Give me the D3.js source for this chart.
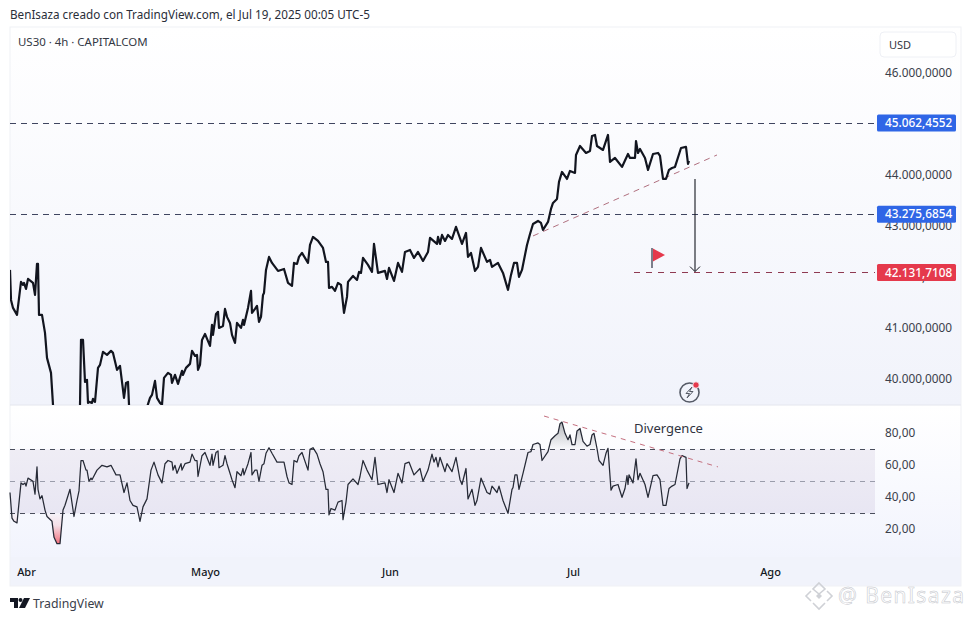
<!DOCTYPE html>
<html><head><meta charset="utf-8">
<script src="https://cdn.jsdelivr.net/npm/d3@7/dist/d3.min.js"></script>
<style>html,body{margin:0;padding:0;background:#fff;overflow:hidden}svg{display:block}
text{font-family:"Noto Sans",sans-serif}</style></head><body><div id="c"></div>
<script>
const priceBars=[10,11,13,17,21,23,24,26,28,33,35,37,38,39,42,45,47,51,53,56,
62,68,75,78,80,81,83,85,87,88,89,92,93,95,98,100,103,107,111,113,
117,120,124,126,128,129,135,143,150,152,155,157,160,162,164,168,171,172,175,178,
182,183,186,190,192,195,197,198,200,202,205,210,212,213,216,218,219,223,225,227,
230,232,235,237,241,243,244,248,251,252,255,257,259,261,263,264,266,269,272,278,
284,288,292,294,297,299,302,308,310,313,318,323,326,328,329,332,335,338,341,344,
347,348,353,357,359,361,363,368,372,374,378,385,387,389,394,398,402,405,410,414,
418,423,428,430,437,438,440,442,445,448,452,456,462,466,468,471,475,478,481,487,
490,492,498,503,508,511,514,517,519,522,527,530,533,538,541,543,548,551,553,557,
559,562,567,570,575,576,580,586,590,592,595,597,603,608,610,615,622,628,630,635,
636,638,640,645,648,653,658,660,663,666,669,672,675,681,686,688,689];
const priceValues=[42139,41551,41394,41257,41904,41845,41884,41766,41962,41884,41649,42256,42256,41257,41257,40904,40414,40120,39493,38807,
38219,38513,38219,39003,39493,40767,40767,39944,39983,39532,39552,39532,39610,39552,40218,40277,40532,40473,40551,40512,
40179,40257,39630,39924,39944,39493,39100,39199,39630,39689,39963,39630,39532,39493,40022,40120,40081,39924,40081,39904,
40159,40081,40218,40296,40551,40453,40473,40179,40277,40767,40884,40649,41061,40864,41276,41316,41002,41041,41374,41218,
41100,40864,40708,41100,41002,41159,41061,41394,41727,41296,41374,41433,41120,41218,41649,41688,42139,42394,42276,42119,
42158,41884,41825,42276,42256,42394,42472,42276,42629,42786,42707,42570,42296,42296,41786,41806,41727,41884,41845,41296,
41610,41904,42021,41943,42100,42080,42374,42237,42100,42648,42080,42119,41962,42178,41923,42276,42100,42492,42531,42374,
42492,42315,42492,42766,42648,42786,42648,42825,42707,42825,42746,42982,42648,42864,42394,42472,42119,42198,42570,42296,
42335,42198,42276,42080,41747,42041,42276,42276,42002,42139,42629,42844,43040,43099,43060,42923,43080,43334,43452,43530,
43864,44060,43922,44079,44040,44393,44569,44432,44471,44765,44785,44569,44491,44785,44256,44334,44158,44412,44334,44334,
44667,44432,44510,44334,44099,44412,44432,44373,43922,43922,44099,44138,44158,44530,44550,44216,44275];

const rsiBars=[10,12,14,17,21,23,25,26,28,33,35,37,38,40,42,45,47,52,54,57,
60,63,65,70,74,77,79,81,83,86,87,89,91,92,97,102,107,111,116,120,
124,127,130,133,137,140,143,147,151,154,158,162,165,168,172,173,175,177,181,182,
185,190,192,195,197,198,202,205,210,212,213,216,218,219,223,225,227,230,232,235,
237,241,243,244,248,251,252,255,257,259,262,264,266,269,272,277,284,287,289,292,
294,297,299,302,308,310,313,317,320,323,326,328,329,331,335,338,342,343,346,348,
353,358,360,363,367,372,375,378,385,387,389,394,398,402,405,409,414,420,423,428,
432,434,436,438,440,445,447,452,456,460,462,466,468,472,475,477,481,487,490,492,
497,499,503,508,512,513,515,517,519,523,528,531,533,538,540,542,548,551,555,558,
560,562,565,568,570,572,575,577,580,583,587,590,592,594,597,599,603,606,608,611,
613,618,622,625,627,628,629,633,636,638,640,645,648,653,657,660,663,666,669,672,
675,680,682,686,687,689];
const rsiValues=[43,27,25,24,49,48,49,47,52,50,42,59,45,39,41,32,28,25,15,11,
11,32,35,45,28,38,44,63,63,57,57,50,52,51,57,60,59,60,54,54,
43,49,38,35,34,25,34,39,57,62,54,49,61,63,62,57,60,55,61,57,
61,62,67,63,63,53,66,68,60,67,60,68,69,58.5,60,66,61,55,51,46,
56,53.5,58,54,61,68,54,57,57,50,60,61,67.5,71,67.5,62,62,53,49,48,
63,62,66,68,57,70,71,67,61,56,45,45,29,33,32,37,38,26,37,48,
51.5,48,53,63,57,51,65,48,49,43,51,43,55,49,61,62,54,58,50,57,
67,62,65,59,65,56,61,56,65,51,48,58,39,45,35,38,52,43,42,47,
43,47,38,30,45,46,54,54,45,55,68,68.5,73,74,73,63,68.5,76,78.5,80,
86,87,80,76,79,73,73,81.5,83,75,72,73,79,80,70.5,63,60,67.5,70.6,44.5,
47,48,40,45.5,53.5,48,54,49,64,51,55,48,40,53.5,54,51,35,35,45.5,47,
48,64,66,65,45.5,49];

const priceTicks=[46000,45000,44000,43000,42000,41000,40000];
const priceTickLabels=["46.000,0000","","44.000,0000","43.000,0000","42.000,0000","41.000,0000","40.000,0000"];
const rsiTicks=[80,60,40,20];
const rsiTickLabels=["80,00","60,00","40,00","20,00"];
const monthBars=[26,205,390,573,770];
const monthLabels=["Abr","Mayo","Jun","Jul","Ago"];
const priceLevels=[45062.4552,43275.6854];
const priceLevelLabels=["45.062,4552","43.275,6854"];
const targetLevel=42131.7108, targetLabel="42.131,7108";
const trendBars=[533,717], trendValues=[42805,44393];
const divBars=[544,718], divValues=[90.8,59];
const rsiLevels=[70,50,30];

const W=970,H=621;
const svg=d3.select("#c").append("svg").attr("width",W).attr("height",H);
const x=d3.scaleLinear().domain([10,875]).range([10,875]);
const y=d3.scaleLinear().domain([46000,40000]).range([73,379]);
const yLevel=y.copy().range([75.3,381.3]);
const r=d3.scaleLinear().domain([80,20]).range([433.3,529.3]);

const defs=svg.append("defs");
function grad(id,stops,a,b){const g=defs.append("linearGradient").attr("id",id).attr("x1",0).attr("x2",0);
 if(a!=null){g.attr("gradientUnits","userSpaceOnUse").attr("y1",a).attr("y2",b);}else{g.attr("y1",0).attr("y2",1);}
 stops.forEach(s=>g.append("stop").attr("offset",s[0]).attr("stop-color",s[1]).attr("stop-opacity",s[2]==null?1:s[2]));}
grad("gMain",[[0,"#ffffff"],[1,"#f1f3fb"]]);
grad("gRsi",[[0,"#ffffff"],[1,"#f2f4fd"]]);
grad("gBand",[[0,"#efedf5"],[1,"#e8e6f3"]]);
grad("gRed",[[0,"#f23645",0.02],[0.4,"#f23645",0.12],[1,"#f23645",0.7]],r(30),r(11));
grad("gGrey",[[0,"#6b7078",0.5],[0.5,"#6b7078",0.25],[1,"#6b7078",0.02]],r(87),r(70));
const clip=(id,a,b,c,d)=>defs.append("clipPath").attr("id",id).append("rect").attr("x",a).attr("y",b).attr("width",c).attr("height",d);
clip("cMain",10,28,866,377);
clip("cAbove",10,406,866,r(70)-406);
clip("cBelow",10,r(30),866,557-r(30));

// panes
svg.append("rect").attr("x",10).attr("y",27).attr("width",951).attr("height",378).attr("fill","url(#gMain)");
svg.append("rect").attr("x",10).attr("y",406).attr("width",951).attr("height",151).attr("fill","url(#gRsi)");
svg.append("rect").attr("x",10).attr("y",557).attr("width",951).attr("height",29).attr("fill","#f1f3fb");
svg.append("rect").attr("x",10).attr("y",27).attr("width",951).attr("height",559).attr("fill","none").attr("stroke","#f0f1f5");
svg.append("line").attr("x1",10).attr("x2",961).attr("y1",405).attr("y2",405).attr("stroke","#e4e6ee");

// header
svg.append("text").attr("x",10).attr("y",19).attr("font-size",11.7).attr("fill","#2a2e39").text("BenIsaza creado con TradingView.com, el Jul 19, 2025 00:05 UTC-5");
svg.append("text").attr("x",18).attr("y",46).attr("font-size",11.45).attr("fill","#333844").text("US30 · 4h · CAPITALCOM");

// rsi band
svg.append("rect").attr("x",x(10)).attr("width",x(875)-x(10)).attr("y",r(70)).attr("height",r(30)-r(70)).attr("fill","url(#gBand)");

const dash=(g,x1,x2,y1,y2,col,da,w)=>g.append("line").attr("x1",x1).attr("x2",x2).attr("y1",y1).attr("y2",y2).attr("stroke",col).attr("stroke-dasharray",da).attr("stroke-width",w||1).attr("shape-rendering","crispEdges");
rsiLevels.forEach((v,i)=>dash(svg,x(10),x(875),r(v),r(v),i==1?"#9a9cab":"#4a4e5c","5,5"));

// rsi overbought / oversold fills
const pts=rsiBars.map((b,i)=>[b,rsiValues[i]]);
svg.append("path").datum(pts).attr("clip-path","url(#cBelow)").attr("fill","url(#gRed)")
 .attr("d",d3.area().x(d=>x(d[0])).y1(d=>r(d[1])).y0(r(30)));
svg.append("path").datum(pts).attr("clip-path","url(#cAbove)").attr("fill","url(#gGrey)")
 .attr("d",d3.area().x(d=>x(d[0])).y1(d=>r(d[1])).y0(r(70)));
svg.append("path").datum(pts).attr("fill","none").attr("stroke","#262a36").attr("stroke-width",1.25).attr("stroke-linejoin","round")
 .attr("d",d3.line().x(d=>x(d[0])).y(d=>r(d[1])));

// divergence
svg.append("path").datum(divBars.map((b,i)=>[b,divValues[i]])).attr("fill","none").attr("stroke","#c4707f").attr("stroke-dasharray","5,5")
 .attr("d",d3.line().x(d=>x(d[0])).y(d=>r(d[1])));
svg.append("text").attr("x",634).attr("y",433).attr("font-size",13).attr("fill","#2f3340").text("Divergence");

// price levels
priceLevels.forEach(v=>dash(svg,x(10),x(875),yLevel(v),yLevel(v),"#3f4560","6,5"));
dash(svg,x(634),x(875),yLevel(targetLevel),yLevel(targetLevel),"#8f3a52","6,6");

// trend
svg.append("path").datum(trendBars.map((b,i)=>[b,trendValues[i]])).attr("fill","none").attr("stroke","#b0707f").attr("stroke-dasharray","6,5")
 .attr("d",d3.line().x(d=>x(d[0])).y(d=>y(d[1])));

// price line
svg.append("path").datum(priceBars.map((b,i)=>[b,priceValues[i]])).attr("clip-path","url(#cMain)").attr("fill","none")
 .attr("stroke","#12151f").attr("stroke-width",2.2).attr("stroke-linejoin","round")
 .attr("d",d3.line().x(d=>x(d[0])).y(d=>y(d[1])));

// arrow
const ax=x(695), at=y(44000)+4, ab=yLevel(targetLevel)-1;
svg.append("line").attr("x1",ax).attr("x2",ax).attr("y1",at).attr("y2",ab).attr("stroke","#14161f").attr("stroke-width",1.1);
svg.append("path").attr("d",`M${ax-5},${ab-5}L${ax},${ab}L${ax+5},${ab-5}`).attr("fill","none").attr("stroke","#14161f").attr("stroke-width",1);

// flag
svg.append("path").attr("d","M652,248L665,255L652,262Z").attr("fill","#e5394c");
svg.append("line").attr("x1",652).attr("x2",652).attr("y1",248).attr("y2",268).attr("stroke","#7c7f8b").attr("stroke-width",2);

// bolt icon
const ic=svg.append("g").attr("transform","translate(689.5,392.5)");
ic.append("circle").attr("r",9.5).attr("fill","none").attr("stroke","#555a66").attr("stroke-width",1.6);
ic.append("path").attr("d","M2.5,-5.5L-3.5,1H0L-2.5,5.5L3.5,-1H0Z").attr("fill","none").attr("stroke","#555a66").attr("stroke-width",1);
ic.append("circle").attr("cx",6.5).attr("cy",-7.5).attr("r",3.2).attr("fill","#e5394c").attr("stroke","#f6f7fc").attr("stroke-width",.8);

// axes
function style(g,size,col,anchor,dy,dx){g.select(".domain").remove();g.selectAll(".tick line").remove();
 g.selectAll("text").attr("font-size",size).attr("fill",col).attr("font-family",'"Noto Sans",sans-serif').attr("text-anchor",anchor).attr("dy",dy).attr("x",dx);}
const ga=svg.append("g").attr("transform","translate(885,0)").call(d3.axisRight(y).tickValues(priceTicks).tickFormat((d,i)=>priceTickLabels[i]).tickSize(0));
style(ga,11.8,"#3a3e4a","start","0.32em",0);
const gr=svg.append("g").attr("transform","translate(885,-1)").call(d3.axisRight(r).tickValues(rsiTicks).tickFormat((d,i)=>rsiTickLabels[i]).tickSize(0));
style(gr,11.8,"#3a3e4a","start","0.32em",0);
const gm=svg.append("g").attr("transform","translate(0,572)").call(d3.axisBottom(x).tickValues(monthBars).tickFormat((d,i)=>monthLabels[i]).tickSize(0));
gm.select(".domain").remove();
gm.selectAll("text").attr("y",0).attr("dy","0.32em").attr("font-size",11).attr("font-weight",500).attr("fill","#131722").attr("font-family",'"Noto Sans",sans-serif');

// price labels
function tag(v,label,col){const yy=yLevel(v);
 svg.append("rect").attr("x",877).attr("y",yy-8.5).attr("width",79).attr("height",17).attr("rx",1.5).attr("fill",col);
 svg.append("text").attr("x",885).attr("y",yy+4).attr("font-size",11.8).attr("font-weight",500).attr("fill","#fff").text(label);}
priceLevels.forEach((v,i)=>tag(v,priceLevelLabels[i],"#2f66e6"));
tag(targetLevel,targetLabel,"#e5394c");

// USD button
svg.append("rect").attr("x",880).attr("y",32).attr("width",76).attr("height",25).attr("rx",4).attr("fill","#fff").attr("stroke","#eef0f5");
svg.append("text").attr("x",889).attr("y",48.5).attr("font-size",11).attr("fill","#333844").text("USD");

// footer logo
const lg=svg.append("g").attr("transform","translate(10,598)").attr("fill","#131722");
lg.append("path").attr("d","M0,0H8V10H4V4H0Z");
lg.append("circle").attr("cx",10.5).attr("cy",2).attr("r",2);
lg.append("path").attr("d","M14,0H20L15,10H9Z");
svg.append("text").attr("x",33).attr("y",608).attr("font-size",12.3).attr("fill","#3a3e4a").text("TradingView");

// watermark
const wm=svg.append("g").attr("transform","translate(819,596)").attr("fill","none").attr("stroke","#cfd1d6").attr("stroke-width",1.6);
wm.append("path").attr("d","M0,-13L6,-7L0,-2L-6,-7Z M-8,-5L-13,0L-8,5 M8,-5L13,0L8,5 M-6,7L0,13L6,7");
wm.append("path").attr("d","M0,-3L3,0L0,3L-3,0Z").attr("fill","#cfd1d6").attr("stroke","none");
svg.append("text").attr("x",838).attr("y",603).attr("font-size",21).attr("fill","#fff").attr("stroke","#c2c4ca").attr("stroke-width",.5).attr("font-family","Lato,sans-serif").attr("letter-spacing",1.4).text("@ BenIsaza");
</script></body></html>
